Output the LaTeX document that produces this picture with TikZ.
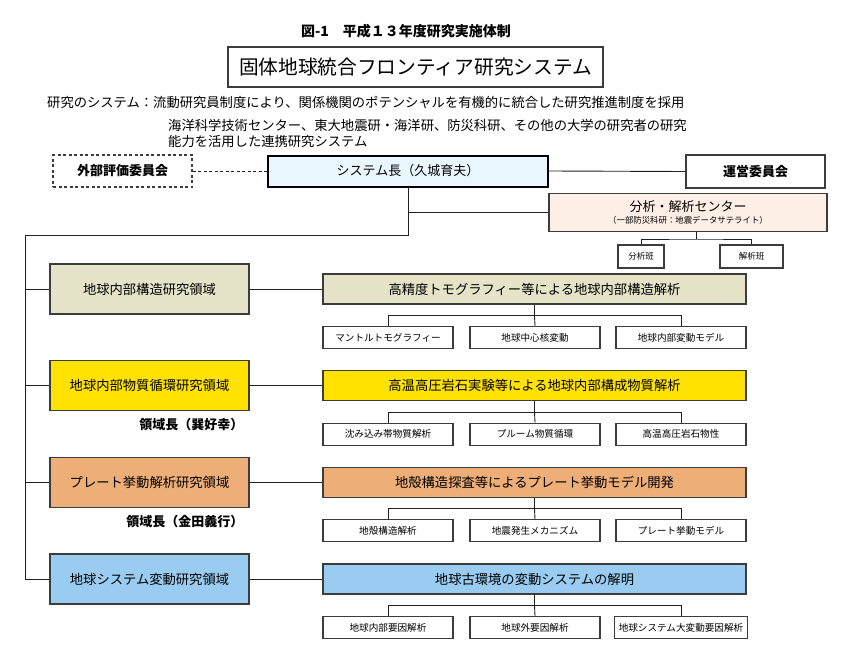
\documentclass[tikz,border=0pt]{standalone}
\usepackage{fontspec}
\setmainfont{Noto Sans CJK JP}
\usetikzlibrary{positioning, calc}
\definecolor{Edge}{HTML}{3C3C3C}
\definecolor{Wire}{HTML}{202020}
\definecolor{SysBlue}{HTML}{EAF6FD}
\definecolor{Peach}{HTML}{FDEFE6}
\definecolor{Khaki}{HTML}{E6E4C8}
\definecolor{Gold}{HTML}{FFE200}
\definecolor{Apricot}{HTML}{EEAE78}
\definecolor{Sky}{HTML}{99CCF0}
\newcommand{\fsz}[1]{\fontsize{#1}{#1}\selectfont}

\begin{document}
\begin{tikzpicture}[x=1pt, y=-1pt,
  box/.style={draw=Edge, line width=1.1pt, inner sep=2pt, font=\fsz{13.3}},
  areabox/.style={box, minimum width=199pt, minimum height=50pt},
  taskbox/.style={box, minimum width=423pt, minimum height=30pt},
  subbox/.style={box, fill=white, minimum width=130pt, minimum height=22pt, inner xsep=4pt, font=\fsz{9.6}},
  teambox/.style={box, fill=white, minimum height=23pt, font=\fsz{8.5}},
  link/.style={draw=Wire, line width=0.9pt}]
  \useasboundingbox (0,0) rectangle (850,661);
  % Headings
  \node[font=\fsz{14}\bfseries] (fig) at (406,31) {図-1　平成１３年度研究実施体制};
  \node[draw=Edge, line width=1.1pt, minimum width=375pt, minimum height=40pt, font=\fsz{19.7}] (frontier) at (415.5,67) {固体地球統合フロンティア研究システム};
  \node[anchor=west, inner sep=0, font=\fsz{13.3}] (sysdesc) at (47,102) {研究のシステム：流動研究員制度により、関係機関のポテンシャルを有機的に統合した研究推進制度を採用};
  \node[anchor=west, inner sep=0, align=left, font=\fsz{13.3}] (partners) at (168,133) {海洋科学技術センター、東大地震研・海洋研、防災科研、その他の大学の研究者の研究\\[2.7pt]能力を活用した連携研究システム};
  % Top level
  \node[box, dashed, dash pattern=on 3pt off 2.5pt, minimum width=139pt, minimum height=32pt, font=\fsz{13}\bfseries] (review) at (122.5,171) {外部評価委員会};
  \node[box, fill=SysBlue, draw=black, line width=2pt, minimum width=280pt, minimum height=31pt, font=\fsz{13}] (chief) at (408,171) {システム長（久城育夫）};
  \node[box, fill=white, minimum width=139pt, minimum height=33pt, font=\fsz{13}\bfseries] (board) at (755.5,171.5) {運営委員会};
  \node[box, fill=Peach, minimum width=278pt, minimum height=38pt, align=center, font=\fsz{13}] (lab) at (688,212.5) {分析・解析センター\\[-1pt]{\fsz{8.4}（一部防災科研：地震データサテライト）}};
  \node[teambox, minimum width=46pt] (team1) at (641,256.5) {分析班};
  \node[teambox, minimum width=63pt] (team2) at (751.5,256.5) {解析班};
  \draw[link, dashed, dash pattern=on 3pt off 2.5pt] (review.east) -- (chief.west);
  \draw[link] (chief.east) -- (board.west);
  \draw[link] (chief.south |- lab.west) -- (lab.west);
  \coordinate (teamjoin) at (696,239);
  \draw[link] (teamjoin |- lab.south) -- (teamjoin);
  \draw[link] (team1.north) |- (teamjoin) -| (team2.north);
  % Research areas
  \coordinate (bus) at (25,235);
  \foreach \i/\y/\col/\area/\task/\sa/\sb/\sc in {
    1/289/Khaki/地球内部構造研究領域/高精度トモグラフィー等による地球内部構造解析/マントルトモグラフィー/地球中心核変動/地球内部変動モデル,
    2/385.7/Gold/地球内部物質循環研究領域/高温高圧岩石実験等による地球内部構成物質解析/沈み込み帯物質解析/プルーム物質循環/高温高圧岩石物性,
    3/482.3/Apricot/プレート挙動解析研究領域/地殻構造探査等によるプレート挙動モデル開発/地殻構造解析/地震発生メカニズム/プレート挙動モデル,
    4/579/Sky/地球システム変動研究領域/地球古環境の変動システムの解明/地球内部要因解析/地球外要因解析/地球システム大変動要因解析}{
    \node[areabox, fill=\col] (area\i) at (149.5,\y) {\area};
    \node[taskbox, fill=\col] (task\i) at (534.5,\y) {\task};
    \node[subbox] (sub\i-1) at (388,\y+48.5) {\sa};
    \node[subbox] (sub\i-2) at (535,\y+48.5) {\sb};
    \node[subbox] (sub\i-3) at (681,\y+48.5) {\sc};
    \draw[link] (bus |- area\i.west) -- (area\i.west);
    \draw[link] (area\i.east) -- (task\i.west);
    \draw[link] (task\i.south) -- ++(0,11) coordinate (split\i);
    \draw[link] (sub\i-1.north) |- (split\i) -| (sub\i-3.north);
    \draw[link] (split\i) -- (sub\i-2.north);
  }
  \draw[link] (chief.south) |- (bus) -- (bus |- area4.west);
  % Area leaders
  \node[anchor=east, inner sep=0, font=\fsz{13}\bfseries] (lead2) at ($(area2.south east)+(-6,13)$) {領域長（巽好幸）};
  \node[anchor=east, inner sep=0, font=\fsz{13}\bfseries] (lead3) at ($(area3.south east)+(-6,14)$) {領域長（金田義行）};
\end{tikzpicture}
\end{document}
